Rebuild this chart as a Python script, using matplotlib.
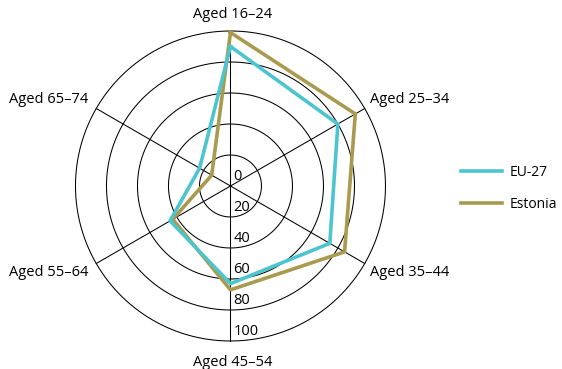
import numpy as np
import matplotlib.pyplot as plt
from matplotlib.lines import Line2D

plt.rcParams['font.family'] = ['Open Sans', 'DejaVu Sans']

age_groups = ['Aged 16–24', 'Aged 25–34', 'Aged 35–44', 'Aged 45–54', 'Aged 55–64', 'Aged 65–74']
eu27 = [90, 80, 74, 63, 45, 23]
estonia = [99, 93, 85, 67, 43, 14]
ring_values = [0, 20, 40, 60, 80, 100]

eu_color = '#4cc5cf'
ee_color = '#a99a4e'

angles = np.linspace(0, 2 * np.pi, len(age_groups), endpoint=False)
closed = np.append(angles, angles[0])

fig = plt.figure(figsize=(5.62, 3.69), dpi=100)
ax = fig.add_axes([0.1343, 0.0759, 0.5516, 0.8401], projection='polar')
ax.set_theta_zero_location('N')
ax.set_theta_direction(-1)
ax.set_ylim(0, 100)
ax.grid(False)
ax.spines['polar'].set_visible(False)
ax.set_xticks([])
ax.set_yticks([])

# rings and spokes
t = np.linspace(0, 2 * np.pi, 361)
for v in ring_values[1:]:
    ax.plot(t, np.full_like(t, v), color='black', lw=0.75, zorder=1, clip_on=False)
for a in angles:
    ax.plot([a, a], [0, 100], color='black', lw=0.75, zorder=1, clip_on=False)

ax.plot(closed, np.append(estonia, estonia[0]), color=ee_color, lw=2.6, zorder=3, clip_on=False)
ax.plot(closed, np.append(eu27, eu27[0]), color=eu_color, lw=2.6, zorder=4, clip_on=False)

# radial value labels along the lower spoke
for v in ring_values:
    ax.annotate(str(v), xy=(np.pi, v), xytext=(2, 7), textcoords='offset points',
                ha='left', va='center', fontsize=10.5, zorder=5)

# category labels
label_pos = [(233, 15, 'center'), (370, 100, 'left'), (370, 272, 'left'),
             (233, 362, 'center'), (88, 272, 'right'), (88, 100, 'right')]
for name, (px, py, ha) in zip(age_groups, label_pos):
    fig.text(px / 562, 1 - py / 369, name, ha=ha, va='center', fontsize=10.5)

handles = [Line2D([], [], color=eu_color, lw=2.6), Line2D([], [], color=ee_color, lw=2.6)]
fig.legend(handles, ['EU-27', 'Estonia'], loc='center left', bbox_to_anchor=(0.815, 0.49),
           frameon=False, fontsize=10, handlelength=3.0, labelspacing=1.2,
           handletextpad=0.55, borderaxespad=0, borderpad=0.2)

fig.savefig('out.png', dpi=100)
